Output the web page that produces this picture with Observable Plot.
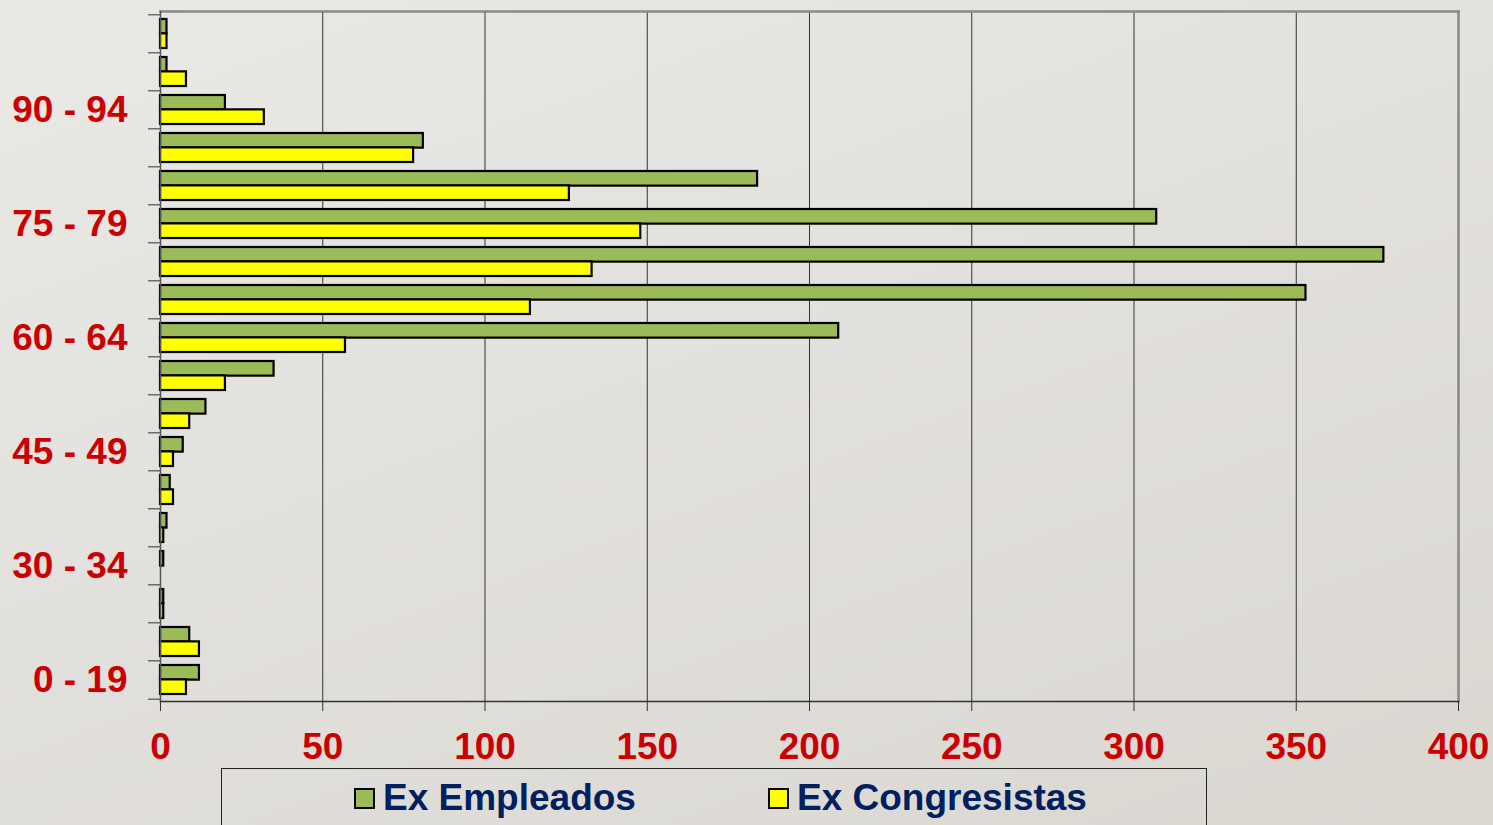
<!DOCTYPE html>
<html>
<head>
<meta charset="utf-8">
<script src="https://cdn.jsdelivr.net/npm/d3@7"></script>
<script src="https://cdn.jsdelivr.net/npm/@observablehq/plot@0.6"></script>
<style>
  html, body { margin: 0; padding: 0; }
  body {
    width: 1493px; height: 825px; overflow: hidden; position: relative;
    background: linear-gradient(160deg, #ebe9e6 0%, #e2e0dc 50%, #dad7d1 100%);
    font-family: "Liberation Sans", Arial, sans-serif;
  }
  #chart svg { display: block; }
  #legend {
    position: absolute; left: 221px; top: 768px; width: 986px; height: 70px;
    border: 1px solid #222; box-sizing: border-box;
  }
  .item { position: absolute; top: 8px; display: flex; align-items: center;
    font-size: 37px; font-weight: bold; color: #002060; white-space: nowrap; }
  .sw { width: 17px; height: 17px; border: 2px solid #000; margin-right: 8px; }
</style>
</head>
<body>
<div id="chart"></div>
<div id="legend"></div>
<script>
const ages = ["0 - 19","20 - 24","25 - 29","30 - 34","35 - 39","40 - 44","45 - 49","50 - 54","55 - 59","60 - 64","65 - 69","70 - 74","75 - 79","80 - 84","85 - 89","90 - 94","95 - 99","100 - 104"];
const exEmpleados    = [12, 9, 1, 1, 2, 3, 7, 14, 35, 209, 353, 377, 307, 184, 81, 20, 2, 2];
const exCongresistas = [ 8, 12, 1, 0, 1, 4, 4, 9, 20, 57, 114, 133, 148, 126, 78, 32, 8, 2];
const shownLabels = ["0 - 19","30 - 34","45 - 49","60 - 64","75 - 79","90 - 94"];
const xTicks = [0, 50, 100, 150, 200, 250, 300, 350, 400];
const seriesNames = ["Ex Empleados", "Ex Congresistas"];
const seriesColors = ["#9bbb59", "#ffff00"];

const data = ages.map((a, i) => ({age: a, emp: exEmpleados[i], cong: exCongresistas[i]}));

const W = 1493, H = 768, mT = 11, mB = 67;
const n = ages.length;
const step = (H - mT - mB) / n;
const bw = step * (1 - 0.25);
const half = bw / 2;

const red = "#cc0000";

const chart = Plot.plot({
  width: W, height: H,
  marginLeft: 160, marginRight: 35, marginTop: mT, marginBottom: mB,
  style: { background: "transparent", fontFamily: "'Liberation Sans', Arial, sans-serif", overflow: "visible" },
  x: { domain: [0, 400] },
  y: { domain: ages.slice().reverse(), paddingInner: 0.25, paddingOuter: 0.125 },
  marks: [
    Plot.gridX(xTicks, { stroke: "#333", strokeOpacity: 1, strokeWidth: 1 }),
    Plot.frame({ anchor: "top", stroke: "#888", strokeWidth: 2.5 }),
    Plot.frame({ anchor: "right", stroke: "#888", strokeWidth: 2.5 }),
    Plot.barX(data, { x: "emp", y: "age", fill: seriesColors[0], stroke: "#000", strokeWidth: 2.2, insetBottom: half }),
    Plot.barX(data, { x: "cong", y: "age", fill: seriesColors[1], stroke: "#000", strokeWidth: 2.2, insetTop: half }),
    Plot.frame({ anchor: "left", stroke: "#555", strokeWidth: 1.5 }),
    Plot.frame({ anchor: "bottom", stroke: "#333", strokeWidth: 1.5 }),
    Plot.axisX({ ticks: xTicks, tickSize: 10, tickPadding: 21, stroke: "#333",
      fontSize: 37, fontWeight: "bold", fill: red, tickFormat: d => d, label: null }),
    Plot.axisY({ tickSize: 0, tickPadding: 33, fontSize: 37, fontWeight: "bold", fill: red,
      tickFormat: d => shownLabels.includes(d) ? d : "", label: null }),
    Plot.axisY({ tickSize: 12, stroke: "#333", tickFormat: () => "", dy: -step / 2, label: null }),
    Plot.axisY({ ticks: [ages[0]], tickSize: 12, stroke: "#333", tickFormat: () => "", dy: step / 2, label: null })
  ]
});
document.getElementById("chart").appendChild(chart);

const legend = document.getElementById("legend");
const lefts = [132, 546];
seriesNames.forEach((name, i) => {
  const it = document.createElement("div");
  it.className = "item";
  it.style.left = lefts[i] + "px";
  const sw = document.createElement("div");
  sw.className = "sw";
  sw.style.background = seriesColors[i];
  const t = document.createElement("span");
  t.textContent = name;
  it.appendChild(sw); it.appendChild(t);
  legend.appendChild(it);
});
</script>
</body>
</html>
